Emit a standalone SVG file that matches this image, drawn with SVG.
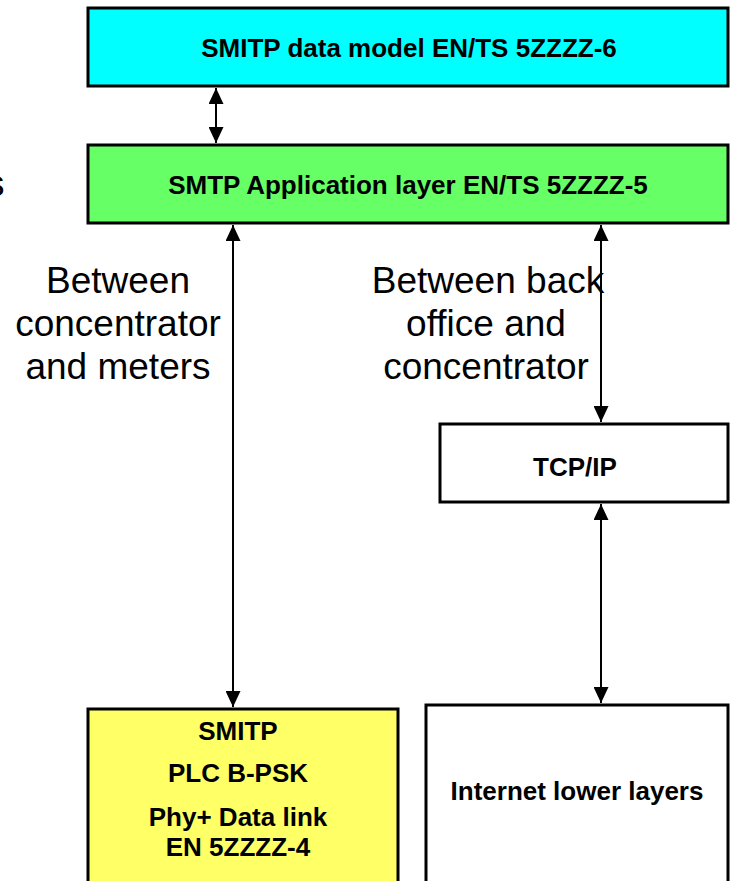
<svg xmlns="http://www.w3.org/2000/svg" width="734" height="881" viewBox="0 0 734 881">
<style>
.box{stroke:#000;stroke-width:3}
.bt{font-family:"Liberation Sans",Arial,sans-serif;font-weight:bold;font-size:26px;fill:#000;text-anchor:middle}
.lt{font-family:"Liberation Sans",Arial,sans-serif;font-size:37px;fill:#000;text-anchor:middle}
.conn{stroke:#000;stroke-width:2;fill:none;marker-start:url(#ah);marker-end:url(#ah)}
</style>
<defs>
<marker id="ah" viewBox="0 0 16 15" refX="16" refY="7.5" markerWidth="16" markerHeight="15" markerUnits="userSpaceOnUse" orient="auto-start-reverse">
<path d="M0,0 L16,7.5 L0,15 z" fill="#000"/>
</marker>
</defs>
<rect width="734" height="881" fill="#fff"/>
<text class="lt" x="-14" y="196" text-anchor="start" style="text-anchor:start">s</text>
<g id="datamodel">
<rect class="box" x="88" y="8" width="640" height="78" fill="#00FFFF"/>
<text class="bt" x="409" y="57">SMITP data model EN/TS 5ZZZZ-6</text>
</g>
<g id="applayer">
<rect class="box" x="88" y="145" width="640" height="78" fill="#66FF66"/>
<text class="bt" x="408" y="194">SMTP Application layer EN/TS 5ZZZZ-5</text>
</g>
<g id="tcpip">
<rect class="box" x="440" y="424" width="288" height="78" fill="#fff"/>
<text class="bt" x="575" y="476">TCP/IP</text>
</g>
<g id="plc">
<rect class="box" x="88" y="709" width="310" height="180" fill="#FFFF66"/>
<text class="bt" x="238" y="740">SMITP</text>
<text class="bt" x="238" y="782">PLC B-PSK</text>
<text class="bt" x="238" y="826">Phy+ Data link</text>
<text class="bt" x="238" y="856">EN 5ZZZZ-4</text>
</g>
<g id="internet">
<rect class="box" x="426" y="705" width="302" height="184" fill="#fff"/>
<text class="bt" x="577" y="800">Internet lower layers</text>
</g>
<g id="labels">
<text class="lt" x="118" y="293">Between</text>
<text class="lt" x="118" y="336">concentrator</text>
<text class="lt" x="118" y="379">and meters</text>
<text class="lt" x="488" y="293">Between back</text>
<text class="lt" x="486" y="336">office and</text>
<text class="lt" x="486" y="379">concentrator</text>
</g>
<g id="connectors">
<line class="conn" x1="216" y1="88" x2="216" y2="143"/>
<line class="conn" x1="233" y1="225" x2="233" y2="707"/>
<line class="conn" x1="601" y1="225" x2="601" y2="422"/>
<line class="conn" x1="601" y1="504" x2="601" y2="703"/>
</g>
</svg>
